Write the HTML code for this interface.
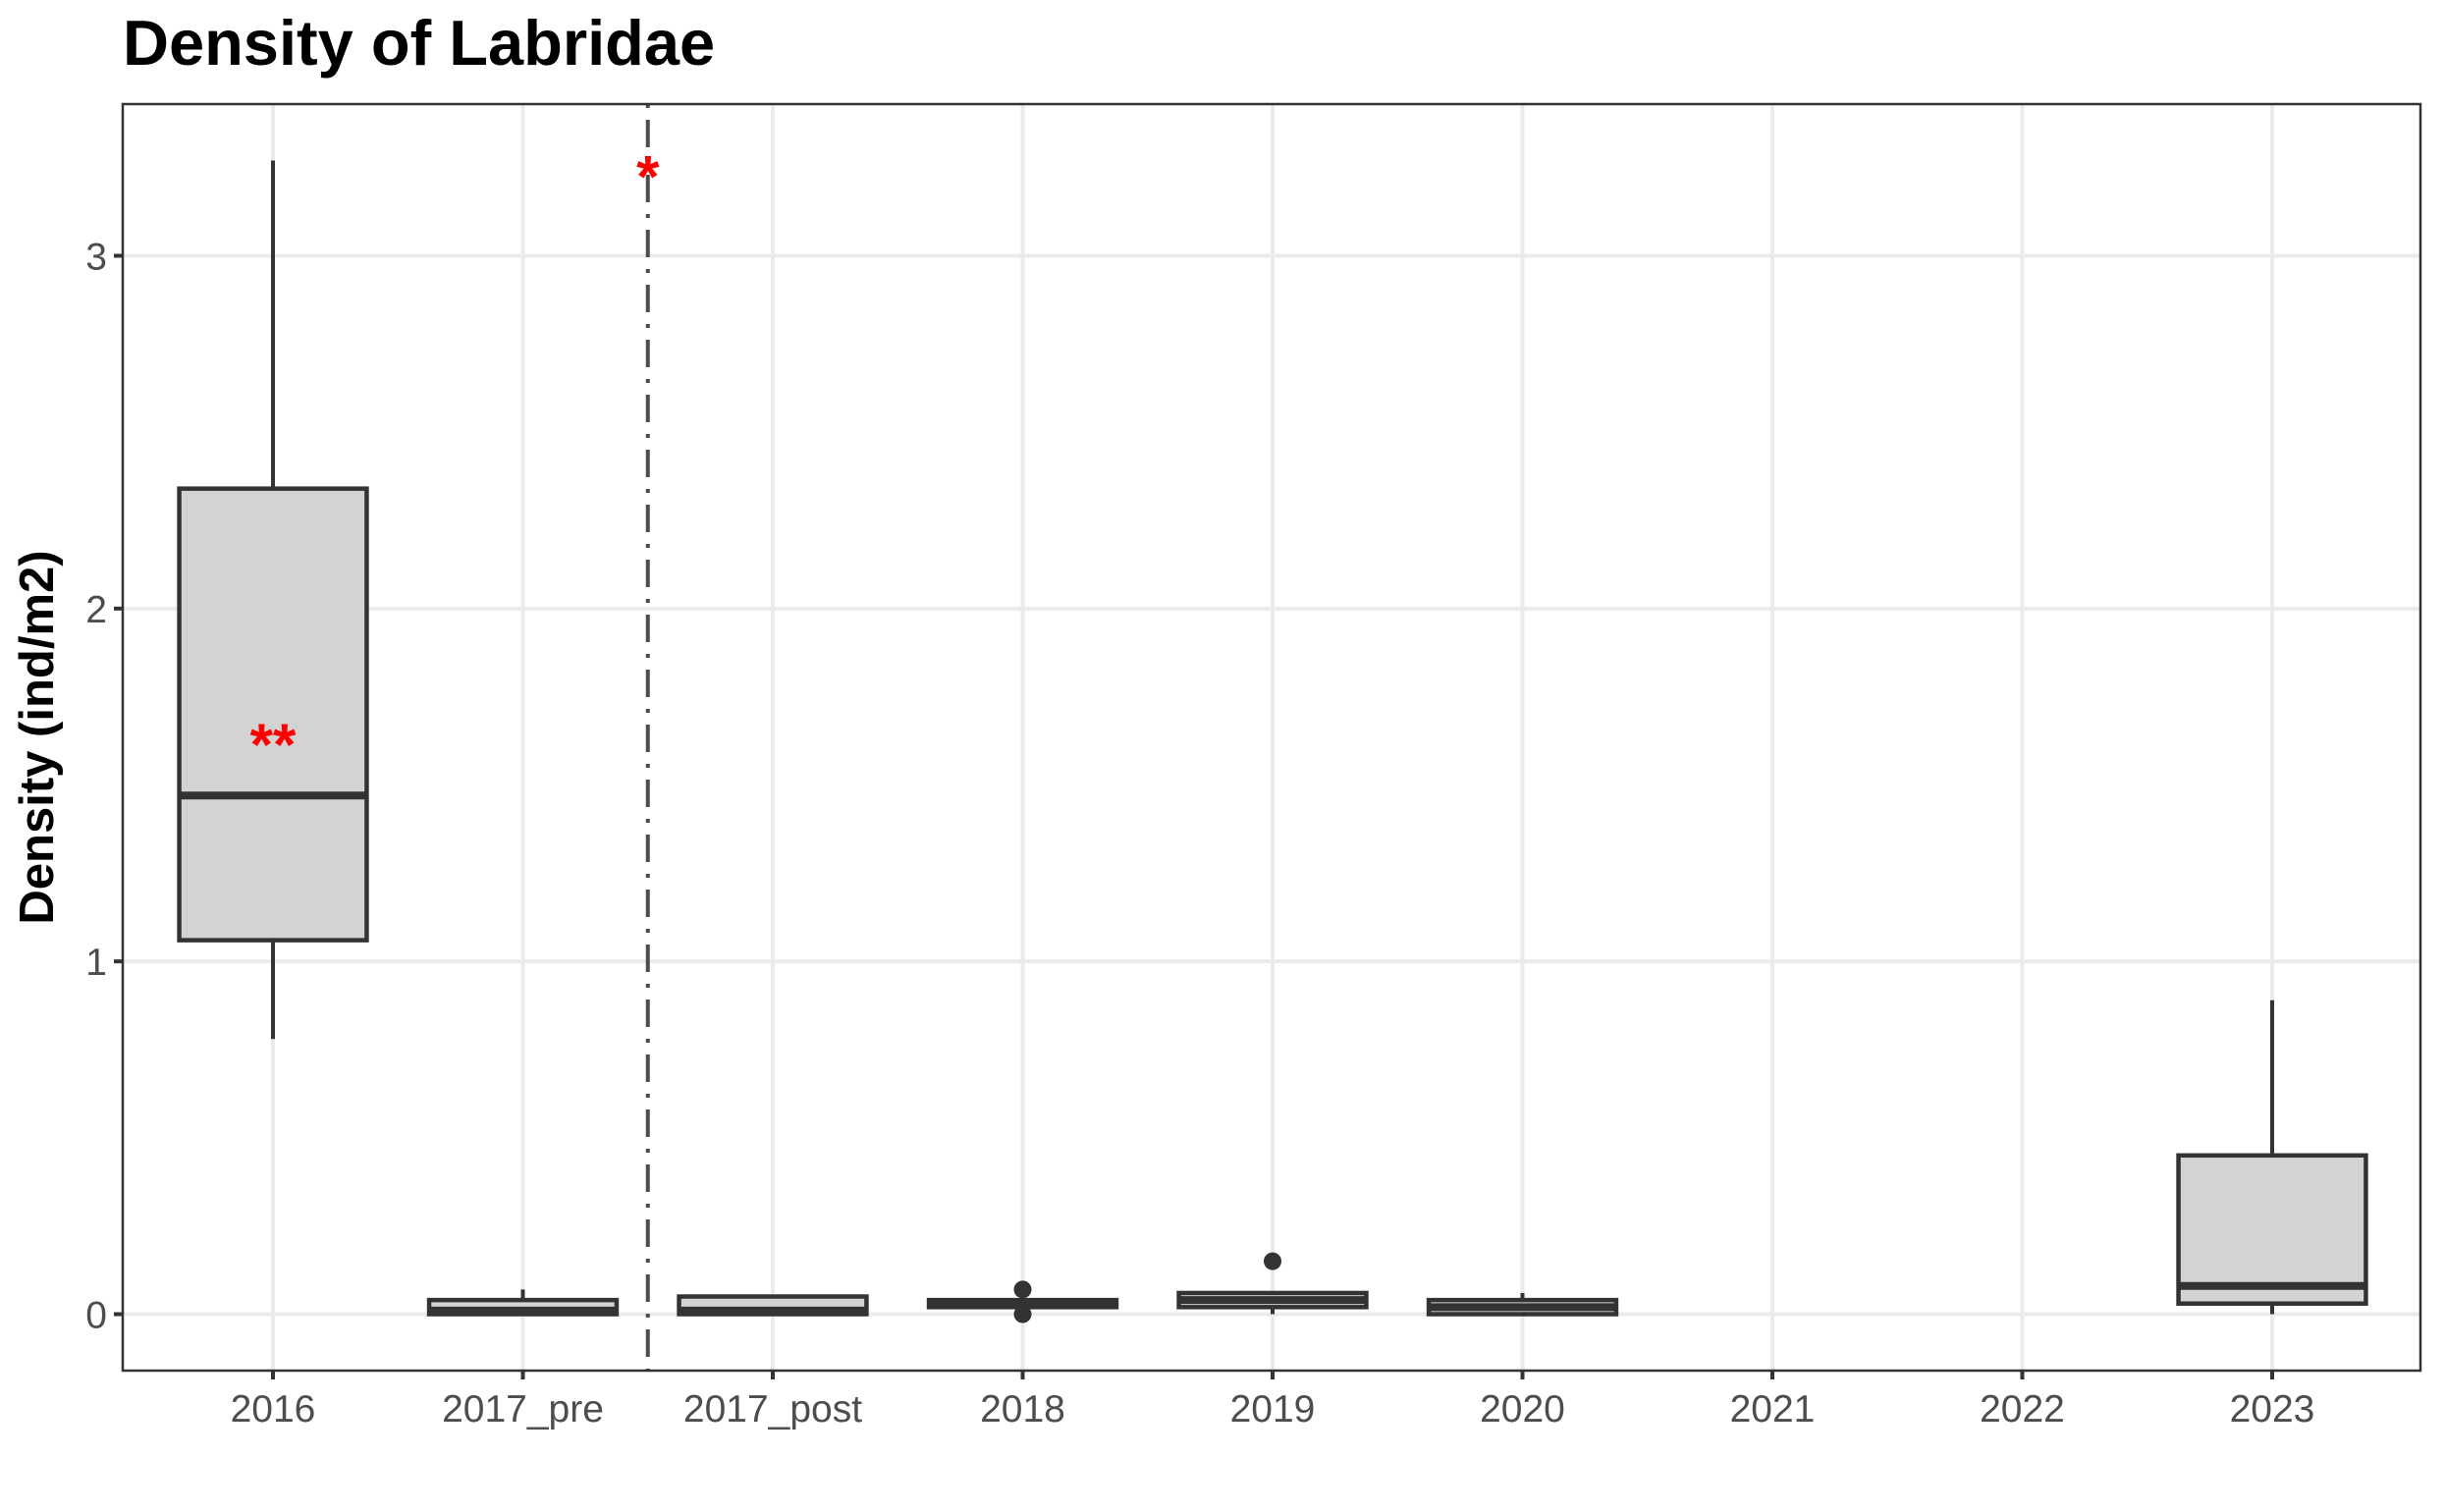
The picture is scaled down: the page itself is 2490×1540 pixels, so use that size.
<!DOCTYPE html>
<html><head><meta charset="utf-8"><style>
body{margin:0;background:#fff}
svg{display:block;font-family:"Liberation Sans",Arial,sans-serif}
</style></head><body>
<svg id="chart" width="2490" height="1540" viewBox="0 0 2490 1540">
<text x="125" y="66" font-size="65" font-weight="bold" fill="#000">Density of Labridae</text>
<text transform="translate(54,751) rotate(-90)" text-anchor="middle" font-size="49" font-weight="bold" fill="#000">Density (ind/m2)</text>
<g id="grid"></g><g id="marks"></g><g id="axes"></g>
</svg>
<script>
const categories=["2016","2017_pre","2017_post","2018","2019","2020","2021","2022","2023"];
const lowWhisker=[0.78,0,0,0.02,0,0,null,null,0];
const q1=[1.06,0,0,0.02,0.02,0,null,null,0.03];
const median=[1.47,0.01,0.01,0.03,0.04,0.02,null,null,0.08];
const q3=[2.34,0.04,0.05,0.04,0.06,0.04,null,null,0.45];
const highWhisker=[3.27,0.07,0.05,0.04,0.06,0.06,null,null,0.89];
const outlierCat=[3,3,4];
const outlierVal=[0.07,0,0.15];
const yTicks=[0,1,2,3];
const annotations=[{x:0,y:1.64,t:"**"},{x:1.5,y:3.25,t:"*"}];
const divider=1.5;

const L=125,R=2465,T=106,B=1396,yMin=-0.16,yMax=3.43;
const x0=278,dx=(2314-278)/8;
const X=i=>x0+i*dx;
const Y=v=>B-(v-yMin)/(yMax-yMin)*(B-T);
const NS="http://www.w3.org/2000/svg";
function mk(tag,attrs,parent){const e=document.createElementNS(NS,tag);for(const k in attrs)e.setAttribute(k,attrs[k]);parent.appendChild(e);return e;}
const grid=document.getElementById('grid'),marks=document.getElementById('marks'),axes=document.getElementById('axes');
mk('rect',{x:L,y:T,width:R-L,height:B-T,fill:'#fff'},grid);
yTicks.forEach(v=>{
 const g=mk('line',{x1:L,x2:R,y1:Y(v),y2:Y(v),stroke:'#ebebeb','stroke-width':4},grid);
 
 
 mk('line',{x1:L-9,x2:L,y1:Y(v),y2:Y(v),stroke:'#333','stroke-width':4},axes);
 const t=mk('text',{x:L-16,y:Y(v)+14,'text-anchor':'end','font-size':39,fill:'#4d4d4d'},axes);
 t.textContent=v;
 
 
});
categories.forEach((c,i)=>{
 const g=mk('line',{x1:X(i),x2:X(i),y1:T,y2:B,stroke:'#ebebeb','stroke-width':4},grid);
 
 
 mk('line',{x1:X(i),x2:X(i),y1:B,y2:B+9,stroke:'#333','stroke-width':4},axes);
 const t=mk('text',{x:X(i),y:B+52,'text-anchor':'middle','font-size':39,fill:'#4d4d4d'},axes);
 t.textContent=c;
 
 
 if(q1[i]===null)return;
 const hw=dx*0.375;
 const g2=mk('g',{},marks);
 
 
 mk('line',{x1:X(i),x2:X(i),y1:Y(highWhisker[i]),y2:Y(lowWhisker[i]),stroke:'#333','stroke-width':4},g2);
 mk('rect',{x:X(i)-hw,y:Y(q3[i]),width:2*hw,height:Math.max(Y(q1[i])-Y(q3[i]),0.1),fill:'#d3d3d3',stroke:'#333','stroke-width':4.5},g2);
 mk('line',{x1:X(i)-hw,x2:X(i)+hw,y1:Y(median[i]),y2:Y(median[i]),stroke:'#333','stroke-width':8},g2);
});
outlierCat.forEach((ci,k)=>{
 const p=mk('circle',{cx:X(ci),cy:Y(outlierVal[k]),r:9,fill:'#333'},marks);
 
 
});
const dl=mk('line',{x1:X(divider),x2:X(divider),y1:T,y2:B,stroke:'#4d4d4d','stroke-width':4,'stroke-dasharray':'4 12 28 12'},marks);


annotations.forEach(a=>{
 const t=mk('text',{x:X(a.x),y:Y(a.y)+30,'text-anchor':'middle','font-size':60,'font-weight':'bold',fill:'#ff0000'},marks);
 t.textContent=a.t;
 
 
});
const fr=mk('rect',{x:L,y:T,width:R-L,height:B-T,fill:'none',stroke:'#333','stroke-width':2.5},axes);


</script>
</body></html>
